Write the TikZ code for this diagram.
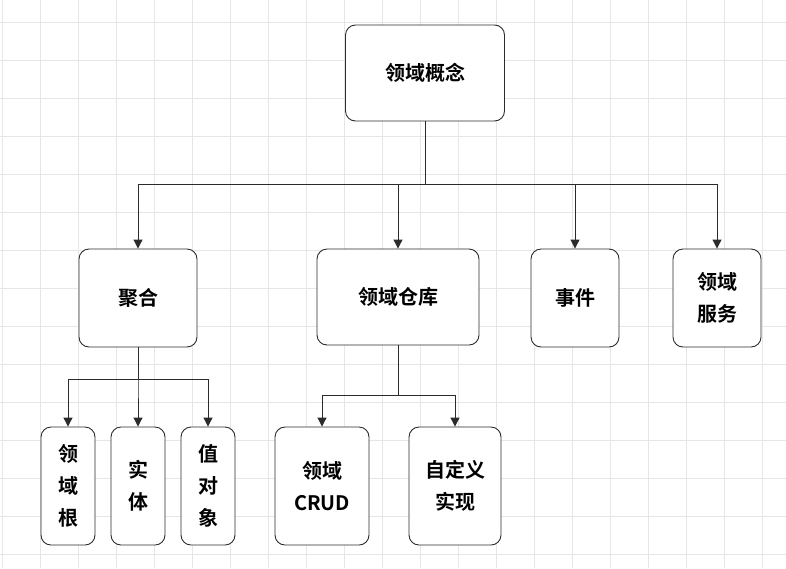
\documentclass[tikz,border=0pt]{standalone}
\usepackage{fontspec}
\setmainfont{Noto Sans CJK SC}[BoldFont={Noto Sans CJK SC Bold}]
\usetikzlibrary{arrows.meta}
\definecolor{line}{HTML}{2B2B2B}
\definecolor{gridc}{HTML}{E6E6E6}
\tikzset{
  box/.style={draw=line,line width=0.9pt,rounded corners=10pt,fill=white,align=center,font=\fontsize{20}{32}\selectfont\bfseries,inner sep=0pt},
  link/.style={draw=line,line width=1pt,-{Triangle[length=9pt,width=9pt]}}
}
\begin{document}
\begin{tikzpicture}[x=1pt,y=-1pt]
        \useasboundingbox (0,0) rectangle (786,568);
        \foreach \gx in {2,40,...,786} \draw[gridc] (\gx,0) -- (\gx,568);
        \foreach \gy in {22,60,...,568} \draw[gridc] (0,\gy) -- (786,\gy);

        \path
        (425,73) node[box,minimum width=159pt,minimum height=96pt](top) {领域概念}
        (138,298) node[box,minimum width=118pt,minimum height=98pt](agg) {聚合}
        (398,297) node[box,minimum width=162pt,minimum height=96pt](repo) {领域仓库}
        (575,298) node[box,minimum width=88pt,minimum height=98pt](evt) {事件}
        (717,298) node[box,minimum width=88pt,minimum height=98pt](svc) {领域\\服务}
        ;
        \path
        (68,486) node[box,minimum width=54pt,minimum height=118pt](root) {领\\域\\根}
        (138,486) node[box,minimum width=54pt,minimum height=118pt](ent) {实\\体}
        (208,486) node[box,minimum width=54pt,minimum height=118pt](val) {值\\对\\象}
        (322,486) node[box,minimum width=94pt,minimum height=118pt](crud) {领域\\CRUD}
        (455,486) node[box,minimum width=92pt,minimum height=118pt](impl) {自定义\\实现}
        ;

        \foreach \t in {agg,repo,evt,svc}
          \draw[link] (top.south) |- (\t.north |- 0,184) -- (\t.north);
        \foreach \t in {root,ent,val}
          \draw[link] (agg.south) |- (\t.north |- 0,379) -- (\t.north);
        \foreach \t in {crud,impl}
          \draw[link] (repo.south) |- (\t.north |- 0,395) -- (\t.north);
\end{tikzpicture}
\end{document}
